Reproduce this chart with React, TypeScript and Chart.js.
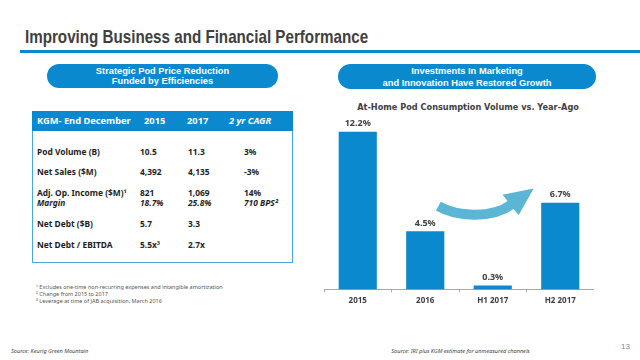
import React, { useEffect, useRef } from "react";
import { Chart, registerables } from "chart.js";

Chart.register(...registerables);

// ---------- data ----------
const categories = ["2015", "2016", "H1 2017", "H2 2017"];
const growthValues = [12.2, 4.5, 0.3, 6.7];
const valueLabels = ["12.2%", "4.5%", "0.3%", "6.7%"];

const tableHeader = ["KGM- End December", "2015", "2017", "2 yr CAGR"];
const rowLabels = ["Pod Volume (B)", "Net Sales ($M)", "Adj. Op. Income ($M)¹", "Margin", "Net Debt ($B)", "Net Debt / EBITDA"];
const col2015 = ["10.5", "4,392", "821", "18.7%", "5.7", "5.5x³"];
const col2017 = ["11.3", "4,135", "1,069", "25.8%", "3.3", "2.7x"];
const colCagr = ["3%", "-3%", "14%", "710 BPS²", "", ""];
const italicRows = [false, false, false, true, false, false];

const footnotes = [
  "¹ Excludes one-time non-recurring expenses and intangible amortization",
  "² Change from 2015 to 2017",
  "³ Leverage at time of JAB acquisition, March 2016",
];

// ---------- layout constants ----------
const BLUE = "#0b89cf";
const rowY = [151.7, 171.7, 192.7, 203.3, 224, 245];
const colX = [37, 140, 188, 244];

type TP = { x: number; y: number; text: string; style?: React.CSSProperties; lh?: number; center?: boolean; w?: number };
function T({ x, y, text, style, lh = 12, center, w }: TP) {
  const s: React.CSSProperties = {
    position: "absolute",
    top: y - lh / 2,
    lineHeight: lh + "px",
    height: lh,
    whiteSpace: "nowrap",
    ...(center ? { left: x - (w || 400) / 2, width: w || 400, textAlign: "center" } : { left: x }),
    ...style,
  };
  return <div style={s}>{text}</div>;
}

const arrowPlugin = {
  id: "arrowAndLabels",
  afterDatasetsDraw(chart: any) {
    const ctx = chart.ctx;
    const xs = chart.scales.x;
    const ys = chart.scales.y;
    const P = (v: number, val: number) => [xs.getPixelForValue(v), ys.getPixelForValue(val)];
    // data labels
    const meta = chart.getDatasetMeta(0);
    ctx.save();
    ctx.fillStyle = "#404040";
    ctx.font = 'bold 9px "Noto Sans"';
    ctx.textAlign = "center";
    ctx.textBaseline = "middle";
    meta.data.forEach((bar: any, i: number) => {
      ctx.fillText(valueLabels[i], bar.x, bar.y - 8);
    });
    // curved arrow
    const p0 = P(1.194, 6.45);
    const c1 = P(1.447, 5.69);
    const c2 = P(1.967, 5.39);
    const p3 = P(2.264, 6.53);
    const tip = P(2.606, 7.82);
    const b1 = P(2.145, 7.32);
    const b2 = P(2.383, 5.74);
    ctx.strokeStyle = "#5bb6d5";
    ctx.fillStyle = "#5bb6d5";
    ctx.lineWidth = 10;
    ctx.lineCap = "butt";
    ctx.beginPath();
    ctx.moveTo(p0[0], p0[1]);
    ctx.bezierCurveTo(c1[0], c1[1], c2[0], c2[1], p3[0] + 1, p3[1] - 0.5);
    ctx.stroke();
    ctx.beginPath();
    ctx.moveTo(tip[0], tip[1]);
    ctx.lineTo(b1[0], b1[1]);
    ctx.lineTo(b2[0], b2[1]);
    ctx.closePath();
    ctx.fill();
    ctx.restore();
  },
};

function BarChart() {
  const ref = useRef<HTMLCanvasElement>(null);
  useEffect(() => {
    if (!ref.current) return;
    const chart = new Chart(ref.current, {
      type: "bar",
      data: {
        labels: categories,
        datasets: [
          {
            data: growthValues,
            backgroundColor: BLUE,
            borderWidth: 0,
            categoryPercentage: 1,
            barPercentage: 0.565,
          },
        ],
      },
      options: {
        responsive: false,
        animation: false,
        layout: { padding: { top: 5, bottom: 0, left: 0, right: 0 } },
        plugins: { legend: { display: false }, tooltip: { enabled: false }, title: { display: false } },
        scales: {
          x: {
            grid: { display: true, drawOnChartArea: false, drawTicks: true, tickLength: 3, color: "#b0b0b0", offset: true },
            border: { display: true, color: "#a8a8a8", width: 1 },
            ticks: {
              color: "#404040",
              font: { family: "Noto Sans", weight: "bold", size: 8 },
              padding: 4,
              maxRotation: 0,
              autoSkip: false,
            },
          },
          y: { display: false, min: 0, max: 13.5 },
        },
      },
      plugins: [arrowPlugin],
    } as any);
    return () => chart.destroy();
  }, []);
  return (
    <canvas
      ref={ref}
      width={270}
      height={200}
      style={{ position: "absolute", left: 324, top: 110, width: 270, height: 200 }}
    />
  );
}

export default function App() {
  const pillText: React.CSSProperties = {
    color: "#fff",
    fontFamily: '"Liberation Sans", Arial, sans-serif',
    fontWeight: "bold",
    fontSize: 9.3,
  };
  const tbl: React.CSSProperties = {
    color: "#1e1e1e",
    fontFamily: '"Noto Sans", sans-serif',
    fontWeight: "bold",
    fontSize: 8.4,
  };
  const hdr: React.CSSProperties = {
    color: "#fff",
    fontFamily: '"Noto Sans", sans-serif',
    fontWeight: "bold",
    fontSize: 9.3,
  };
  const foot: React.CSSProperties = {
    color: "#555",
    fontFamily: '"Noto Sans", sans-serif',
    fontSize: 5.5,
  };
  const src: React.CSSProperties = {
    color: "#444",
    fontFamily: '"Noto Sans", sans-serif',
    fontStyle: "italic",
    fontSize: 5.6,
  };
  return (
    <div
      style={{
        position: "absolute",
        left: 0,
        top: 0,
        width: 640,
        height: 360,
        background: "#fff",
        overflow: "hidden",
      }}
    >
      {/* Title */}
      <T
        x={25}
        y={36.5}
        lh={22}
        text="Improving Business and Financial Performance"
        style={{
          color: "#404040",
          fontFamily: '"Liberation Sans", Arial, sans-serif',
          fontWeight: "bold",
          fontSize: 18.5,
          transform: "scaleX(0.82)",
          transformOrigin: "left center",
        }}
      />
      <div style={{ position: "absolute", left: 20, top: 49.5, width: 620, height: 3.2, background: BLUE }} />

      {/* Left pill */}
      <div style={{ position: "absolute", left: 47, top: 64, width: 231, height: 24, borderRadius: 12, background: BLUE }} />
      <T x={162.5} y={71.3} lh={11} center w={231} text="Strategic Pod Price Reduction" style={pillText} />
      <T x={162.5} y={81.7} lh={11} center w={231} text="Funded by Efficiencies" style={pillText} />

      {/* Right pill */}
      <div style={{ position: "absolute", left: 338, top: 64, width: 258, height: 25, borderRadius: 12.5, background: BLUE }} />
      <T x={467} y={71.7} lh={11} center w={258} text="Investments In Marketing" style={pillText} />
      <T x={467} y={83.2} lh={11} center w={258} text="and Innovation Have Restored Growth" style={pillText} />

      {/* Table */}
      <div style={{ position: "absolute", left: 32, top: 111, width: 261, height: 152, border: "1.2px solid #4aa8dc", boxSizing: "border-box" }} />
      <div style={{ position: "absolute", left: 32, top: 111, width: 261, height: 20, background: BLUE }} />
      <T x={colX[0]} y={121} text={tableHeader[0]} style={hdr} />
      <T x={144} y={121} text={tableHeader[1]} style={hdr} />
      <T x={187} y={121} text={tableHeader[2]} style={hdr} />
      <T x={229} y={121} text={tableHeader[3]} style={{ ...hdr, fontStyle: "italic" }} />
      {rowLabels.map((lab, i) => {
        const st = italicRows[i] ? { ...tbl, fontStyle: "italic" as const } : tbl;
        return (
          <React.Fragment key={i}>
            <T x={colX[0]} y={rowY[i]} text={lab} style={st} />
            <T x={colX[1]} y={rowY[i]} text={col2015[i]} style={st} />
            <T x={colX[2]} y={rowY[i]} text={col2017[i]} style={st} />
            {colCagr[i] ? <T x={colX[3]} y={rowY[i]} text={colCagr[i]} style={st} /> : null}
          </React.Fragment>
        );
      })}

      {/* Footnotes */}
      {footnotes.map((f, i) => (
        <T key={i} x={36} y={287.3 + i * 7.2} lh={7} text={f} style={foot} />
      ))}
      <T x={11} y={351} lh={8} text="Source: Keurig Green Mountain" style={src} />

      {/* Chart title */}
      <T
        x={468}
        y={106.5}
        lh={12}
        center
        w={300}
        text="At-Home Pod Consumption Volume vs. Year-Ago"
        style={{ color: "#404040", fontFamily: '"DejaVu Sans", sans-serif', fontWeight: "bold", fontSize: 8.2 }}
      />

      <BarChart />

      <T x={460.5} y={351} lh={8} center w={200} text="Source: IRI plus KGM estimate for unmeasured channels" style={src} />
      <T x={621} y={347} lh={10} text="13" style={{ color: "#8a8a8a", fontFamily: '"Liberation Sans", Arial, sans-serif', fontSize: 8 }} />
    </div>
  );
}
